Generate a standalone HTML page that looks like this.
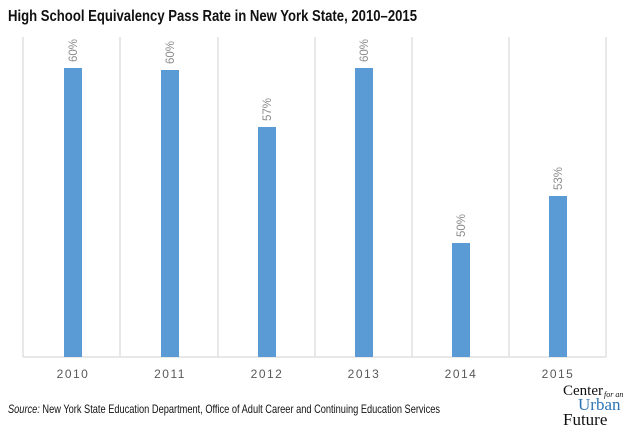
<!DOCTYPE html>
<html><head><style>
body{margin:0;background:#fff;width:635px;height:427px;overflow:hidden}
</style></head><body>
<svg width="635" height="427" xmlns="http://www.w3.org/2000/svg" font-family="Liberation Sans, sans-serif">
<text x="8" y="21" font-size="16" font-weight="bold" fill="#111" textLength="409" lengthAdjust="spacingAndGlyphs">High School Equivalency Pass Rate in New York State, 2010–2015</text>
<g stroke="#d9d9d9" stroke-width="1.2">
<line x1="23" y1="37" x2="23" y2="357"/><line x1="120" y1="37" x2="120" y2="357"/>
<line x1="218" y1="37" x2="218" y2="357"/><line x1="315" y1="37" x2="315" y2="357"/>
<line x1="412" y1="37" x2="412" y2="357"/><line x1="509" y1="37" x2="509" y2="357"/>
<line x1="606" y1="37" x2="606" y2="357"/>
<line x1="23" y1="357" x2="606" y2="357"/>
</g>
<g fill="#5b9bd5">
<rect x="64" y="68" width="18" height="289"/>
<rect x="161" y="70" width="18" height="287"/>
<rect x="258" y="127" width="18" height="230"/>
<rect x="355" y="68" width="18" height="289"/>
<rect x="452" y="243" width="18" height="114"/>
<rect x="549" y="196" width="18" height="161"/>
</g>
<g fill="#8c8c8c" font-size="11.5">
<text transform="translate(77,62) rotate(-90)">60%</text>
<text transform="translate(174,64) rotate(-90)">60%</text>
<text transform="translate(271,121) rotate(-90)">57%</text>
<text transform="translate(368,62) rotate(-90)">60%</text>
<text transform="translate(465,237) rotate(-90)">50%</text>
<text transform="translate(562,190) rotate(-90)">53%</text>
</g>
<g fill="#595959" font-size="12" text-anchor="middle" letter-spacing="1.5">
<text x="73" y="378">2010</text><text x="170" y="378">2011</text>
<text x="267" y="378">2012</text><text x="364" y="378">2013</text>
<text x="461" y="378">2014</text><text x="558" y="378">2015</text>
</g>
<text x="8" y="413" font-size="12" fill="#111" textLength="432" lengthAdjust="spacingAndGlyphs"><tspan font-style="italic">Source:</tspan> New York State Education Department, Office of Adult Career and Continuing Education Services</text>
<g font-family="Liberation Serif, serif" fill="#111">
<text x="563" y="395" font-size="15">Center</text>
<text x="604" y="397" font-size="8" font-style="italic">for an</text>
<text x="578" y="410" font-size="17" fill="#2e75b6">Urban</text>
<text x="563" y="425" font-size="17">Future</text>
</g>
</svg>
</body></html>
